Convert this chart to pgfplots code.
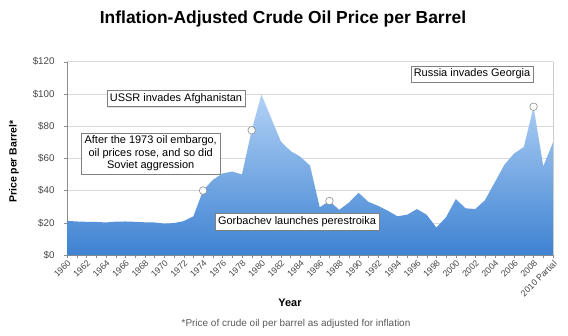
\documentclass[border=0pt]{standalone}
\usepackage{fontspec}
\setmainfont{Liberation Sans}
\usepackage{pgfplots}
\pgfplotsset{compat=1.18}
\usetikzlibrary{shadows}
\definecolor{tickgray}{RGB}{70,70,70}
\definecolor{topblue}{RGB}{178,210,245}
\definecolor{botblue}{RGB}{62,130,210}
\begin{document}
\begin{tikzpicture}[x=1bp,y=1bp]
\path[use as bounding box] (-67,-80) rectangle (501,255);
\begin{axis}[
  at={(0,0)}, anchor=south west,
  scale only axis, width=486bp, height=193.4bp,
  xmin=1960, xmax=2010, ymin=0, ymax=120,
  axis x line*=bottom, axis y line*=left,
  axis line style={draw=black!45},
  ytick={0,20,...,120},
  yticklabels={\$0,\$20,\$40,\$60,\$80,\$100,\$120},
  xtick={1960,1962,...,2010},
  xticklabels={1960,1962,1964,1966,1968,1970,1972,1974,1976,1978,1980,1982,1984,1986,1988,1990,1992,1994,1996,1998,2000,2002,2004,2006,2008,2010 Partial},
  minor xtick={1961,1963,...,2009},
  ymajorgrids, grid style={draw=black!15},
  tick style={draw=black!45},
  tick align=outside, major tick length=3bp, minor tick length=3bp,
  x tick label style={rotate=45, anchor=north east, font=\fontsize{8.8}{9}\selectfont, text=tickgray, inner sep=1pt},
  y tick label style={font=\fontsize{9.8}{10}\selectfont, text=tickgray, xshift=-6bp},
  clip=false,
]
\addplot[draw=none, shade, top color=topblue, bottom color=botblue] coordinates {
(1960,0)
(1960,21.2)(1961,20.8)(1962,20.6)(1963,20.5)(1964,20.2)(1965,20.7)(1966,20.8)
(1967,20.6)(1968,20.3)(1969,20.2)(1970,19.5)(1971,19.8)(1972,21)(1973,24)
(1974,40)(1975,46.6)(1976,50.6)(1977,51.8)(1978,50)(1979,77.4)(1980,99.6)
(1981,85)(1982,70.5)(1983,64.5)(1984,61)(1985,55.5)(1986,29.6)(1987,33.5)
(1988,28)(1989,32.5)(1990,38.6)(1991,33)(1992,30.5)(1993,27.5)(1994,24)
(1995,25)(1996,28.5)(1997,25)(1998,17)(1999,23.5)(2000,34.7)(2001,29)
(2002,28.5)(2003,34)(2004,45)(2005,56)(2006,63)(2007,67)(2008,92)
(2009,55)(2010,70)
(2010,0)
} \closedcycle;
\addplot[only marks, mark=*, mark size=3.8pt, mark options={fill=white, draw=black!45, line width=0.6pt}] coordinates {
(1974,40)(1979,77.4)(1987,33.5)(2008,92)
};
\end{axis}
\draw[black!20] (486,0) -- (486,193.4);
\node[font=\fontsize{17.5}{20}\bfseries\selectfont] at (216,236) {Inflation-Adjusted Crude Oil Price per Barrel};
\node[rotate=90, font=\fontsize{10.5}{12}\bfseries\selectfont] at (-53,93.3) {Price per Barrel*};
\node[font=\fontsize{11}{12}\bfseries\selectfont] at (223,-48) {Year};
\node[font=\fontsize{10}{11}\selectfont, text=black!65] at (229,-69) {*Price of crude oil per barrel as adjusted for inflation};
\tikzset{ann/.style={draw=black!50, fill=white, line width=0.5pt, inner sep=3pt, font=\fontsize{11}{12.5}\selectfont, align=center, drop shadow={shadow xshift=1bp, shadow yshift=-1bp, opacity=0.25}}}
\node[ann] at (109,156.5) {USSR invades Afghanistan};
\node[ann] at (83.7,101.5) {After the 1973 oil embargo,\\oil prices rose, and so did\\Soviet aggression};
\node[ann] at (230,33.3) {Gorbachev launches perestroika};
\node[ann] at (405,181) {Russia invades Georgia};
\end{tikzpicture}
\end{document}
